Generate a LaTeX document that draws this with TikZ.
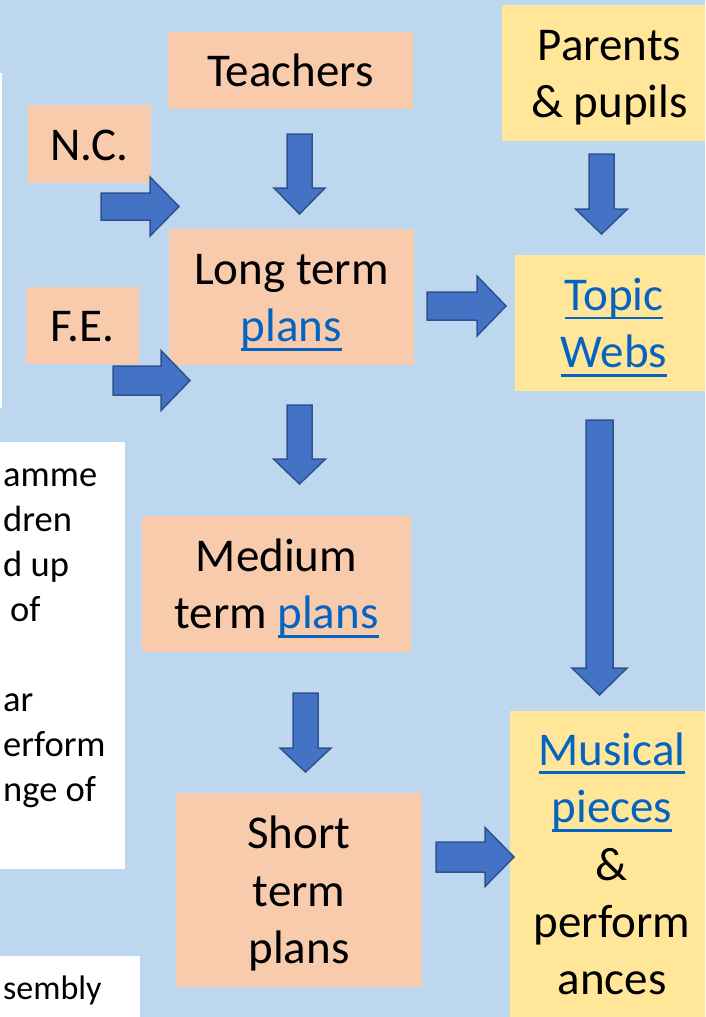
\documentclass[tikz,border=0pt]{standalone}
\usepackage{fontspec}
\setmainfont{Carlito}
\definecolor{bgblue}{HTML}{BDD7EE}
\definecolor{salmon}{HTML}{F8CBAD}
\definecolor{paleyellow}{HTML}{FFE699}
\definecolor{arrowfill}{HTML}{4472C4}
\definecolor{arrowline}{HTML}{2F528F}
\definecolor{linkblue}{HTML}{0563C1}
% line strut: ascent and descent of one text line
\newcommand\ws{\rule[-0.269em]{0pt}{1.221em}}
% hyperlink-style text with a fixed underline
\newcommand\lnk[1]{\setbox0\hbox{\textcolor{linkblue}{#1}}\rlap{\textcolor{linkblue}{\rule[-9pt]{\wd0}{2.8pt}}}\box0}
% block arrows: tail x, head base x, tip x, centre y, body half width, head half width
\newcommand\rightblock[6]{\filldraw[bigarrow] (#1,#4-#5) -- (#2,#4-#5) -- (#2,#4-#6) -- (#3,#4) -- (#2,#4+#6) -- (#2,#4+#5) -- (#1,#4+#5) -- cycle;}
% top y, head base y, tip y, centre x, body half width, head half width
\newcommand\downblock[6]{\filldraw[bigarrow] (#4-#5,#1) -- (#4+#5,#1) -- (#4+#5,#2) -- (#4+#6,#2) -- (#4,#3) -- (#4-#6,#2) -- (#4-#5,#2) -- cycle;}
\tikzset{
  bigarrow/.style={fill=arrowfill, draw=arrowline, line width=1.5pt, line join=miter},
  stage/.style={rectangle, fill=salmon, inner sep=0pt, align=center,
    font=\fontsize{47}{57.4}\selectfont},
  source/.style={stage, fill=paleyellow},
  frag/.style={anchor=base west, inner sep=0pt, font=\fontsize{36.5}{45}\selectfont}
}
\begin{document}
\begin{tikzpicture}[x=1pt, y=-1pt]
\useasboundingbox (0,0) rectangle (705,1017);
\clip (0,0) rectangle (705,1017);
\fill[bgblue] (0,0) rectangle (705,1017);

% white text panels on the left
\fill[white] (-20,73) rectangle (2,408);
\fill[white] (-20,442) rectangle (125,869);
\fill[white] (-20,956) rectangle (140,1030);
\node[frag] (f1) at (3,486) {amme};
\node[frag] (f2) at (3,531) {dren};
\node[frag] (f3) at (3,576) {d up};
\node[frag] (f4) at (10,621) {of};
\node[frag] (f5) at (3,711) {ar};
\node[frag] (f6) at (3,756) {erform};
\node[frag] (f7) at (3,801) {nge of};
\node[frag, font=\fontsize{34}{41.5}\selectfont] (asm) at (3,999) {sembly};

% planning stages
\node[stage, minimum width=123, minimum height=78] (nc) at (89.5,144) {\ws N.C.};
\node[stage, minimum width=113, minimum height=77] (fe) at (82.5,325.5) {\ws F.E.};
\node[stage, minimum width=245, minimum height=77] (teachers) at (290.5,70.5) {\ws Teachers};
\node[stage, minimum width=245, minimum height=136] (lt) at (291.5,297) {\ws Long term\\\ws\lnk{plans}};
\node[stage, minimum width=269, minimum height=136] (mt) at (276.5,584) {\ws Medium\\\ws term \lnk{plans}};
\node[stage, minimum width=246, minimum height=194] (st) at (299,890) {\ws Short\\\ws term\\\ws plans};

% inputs and outcomes
\node[source, minimum width=215, minimum height=136] (parents) at (609.5,73) {\ws Parents\\\ws\& pupils};
\node[source, minimum width=198, minimum height=136] (topic) at (614,323) {\ws\lnk{Topic}\\\ws\lnk{Webs}};
\node[source, minimum width=204, minimum height=306] (musical) at (612,864) {\ws\lnk{Musical}\\\ws\lnk{pieces}\\\ws\&\\\ws perform\\\ws ances};

% block arrows
\rightblock{101}{150}{179}{206.5}{13.5}{29.5}
\rightblock{113}{161}{190}{380.5}{14.5}{30}
\rightblock{427}{477}{506}{306}{14}{30}
\rightblock{436}{485}{514}{857}{15}{29.5}
\downblock{134}{188}{214}{299.5}{12.5}{25.5}
\downblock{154}{209}{234}{601.5}{12.5}{26}
\downblock{405}{459}{484}{299.5}{12.5}{26}
\downblock{420}{668}{695}{599.5}{13.5}{27.5}
\downblock{693}{748}{772}{305.5}{12.5}{25.5}
\end{tikzpicture}
\end{document}
